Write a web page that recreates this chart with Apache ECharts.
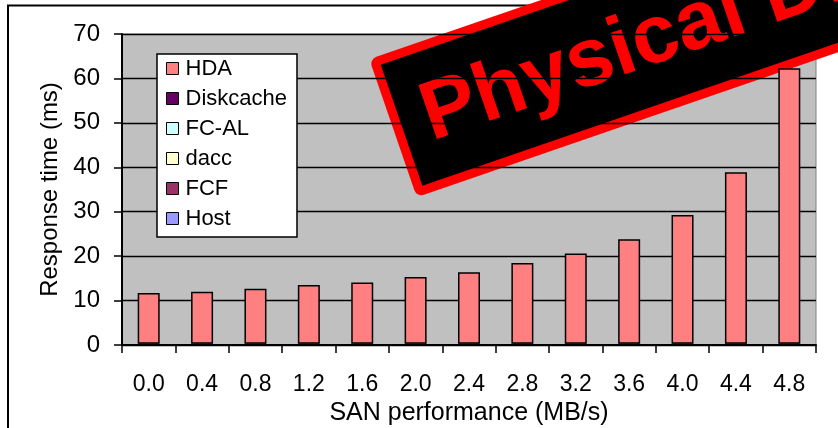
<!DOCTYPE html>
<html>
<head>
<meta charset="utf-8">
<script src="https://cdn.jsdelivr.net/npm/echarts@6/dist/echarts.min.js"></script>
<style>
  html, body { margin: 0; padding: 0; background: #fff; }
  #chart { width: 838px; height: 428px; }
</style>
</head>
<body>
<div id="chart"></div>
<script>
// SAN throughput categories (MB/s)
const categories = ['0.0', '0.4', '0.8', '1.2', '1.6', '2.0', '2.4', '2.8', '3.2', '3.6', '4.0', '4.4', '4.8'];

// Response-time components (ms), stacked per category
const hda       = [11.4, 11.7, 12.4, 13.2, 13.8, 15.0, 16.1, 18.2, 20.3, 23.5, 29.0, 38.6, 62.0];
const diskcache = [0.2, 0.2, 0.2, 0.2, 0.2, 0.2, 0.2, 0.2, 0.2, 0.2, 0.2, 0.2, 0.2];
const fcal      = [0.02, 0.02, 0.02, 0.02, 0.02, 0.02, 0.02, 0.02, 0.02, 0.02, 0.02, 0.02, 0.02];
const dacc      = [0.02, 0.02, 0.02, 0.02, 0.02, 0.02, 0.02, 0.02, 0.02, 0.02, 0.02, 0.02, 0.02];
const fcf       = [0.02, 0.02, 0.02, 0.02, 0.02, 0.02, 0.02, 0.02, 0.02, 0.02, 0.02, 0.02, 0.02];
const host      = [0.02, 0.02, 0.02, 0.02, 0.02, 0.02, 0.02, 0.02, 0.02, 0.02, 0.02, 0.02, 0.02];

const yTicks = [0, 10, 20, 30, 40, 50, 60, 70];

const seriesDefs = [
  { name: 'Host',      data: host,      color: '#9999FF' },
  { name: 'FCF',       data: fcf,       color: '#993366' },
  { name: 'dacc',      data: dacc,      color: '#FFFFCC' },
  { name: 'FC-AL',     data: fcal,      color: '#CCFFFF' },
  { name: 'Diskcache', data: diskcache, color: '#660066' },
  { name: 'HDA',       data: hda,       color: '#FF8080' }
];

const FONT = '"Liberation Sans", Arial, sans-serif';
const chart = echarts.init(document.getElementById('chart'), null, { renderer: 'canvas' });

chart.setOption({
  animation: false,
  backgroundColor: '#ffffff',
  textStyle: { fontFamily: FONT, color: '#000' },
  grid: {
    left: 122, right: 22, top: 34, bottom: 83,
    containLabel: false,
    outerBoundsMode: 'none',
    show: true,
    backgroundColor: '#C0C0C0',
    borderColor: '#808080',
    borderWidth: 1
  },
  legend: {
    orient: 'vertical',
    left: 157, top: 54,
    data: ['HDA', 'Diskcache', 'FC-AL', 'dacc', 'FCF', 'Host'],
    backgroundColor: '#ffffff',
    borderColor: '#000',
    borderWidth: 1.5,
    padding: [3, 10, 7, 9],
    itemWidth: 12, itemHeight: 12,
    itemGap: 7,
    icon: 'rect',
    itemStyle: { borderColor: '#000', borderWidth: 1 },
    textStyle: { fontFamily: FONT, fontSize: 22, lineHeight: 23, color: '#000', padding: [0, 0, 0, 2] }
  },
  xAxis: {
    type: 'category',
    data: categories,
    name: 'SAN performance (MB/s)',
    nameLocation: 'middle',
    nameGap: 54,
    nameTextStyle: { fontFamily: FONT, fontSize: 25, color: '#000' },
    axisLine: { lineStyle: { color: '#000', width: 2 } },
    axisTick: { show: true, alignWithLabel: false, length: 8, lineStyle: { color: '#000', width: 1.5 } },
    axisLabel: { fontFamily: FONT, fontSize: 23, color: '#000', margin: 28 },
    splitLine: { show: false }
  },
  yAxis: {
    type: 'value',
    min: 0, max: 70, interval: 10,
    name: 'Response time (ms)',
    nameLocation: 'middle',
    nameGap: 60,
    nameRotate: 90,
    nameTextStyle: { fontFamily: FONT, fontSize: 24, color: '#000' },
    axisLine: { show: true, lineStyle: { color: '#000', width: 2 } },
    axisTick: { show: true, inside: false, length: 8, lineStyle: { color: '#000', width: 1.5 } },
    axisLabel: {
      fontFamily: FONT, fontSize: 24, color: '#000', margin: 22,
      formatter: v => (yTicks.indexOf(v) >= 0 ? String(v) : '')
    },
    splitLine: { show: true, lineStyle: { color: '#000', width: 1.3 } }
  },
  series: seriesDefs.map(s => ({
    name: s.name,
    type: 'bar',
    stack: 'total',
    data: s.data,
    barWidth: 22,
    itemStyle: { color: s.color, borderColor: '#000', borderWidth: 1.5 }
  })),
  graphic: [
    // outer frame of the chart object
    {
      type: 'rect', z: 0, silent: true,
      shape: { x: 8, y: 5.5, width: 900, height: 500 },
      style: { fill: 'none', stroke: '#000', lineWidth: 2 }
    },
    // rotated stamp overlay
    {
      type: 'group',
      x: 375, y: 62,
      rotation: 19 * Math.PI / 180,
      z: 100,
      children: [
        {
          type: 'rect',
          shape: { x: 0, y: 0, width: 700, height: 137, r: 3 },
          style: { fill: '#000', stroke: '#FF0000', lineWidth: 9, lineJoin: 'round' }
        },
        {
          type: 'text',
          x: 28, y: 70,
          style: {
            text: 'Physical Disk',
            fill: '#FF0000',
            fontSize: 83,
            fontWeight: 'bold',
            fontFamily: FONT,
            verticalAlign: 'middle'
          }
        }
      ]
    }
  ]
});
</script>
</body>
</html>
